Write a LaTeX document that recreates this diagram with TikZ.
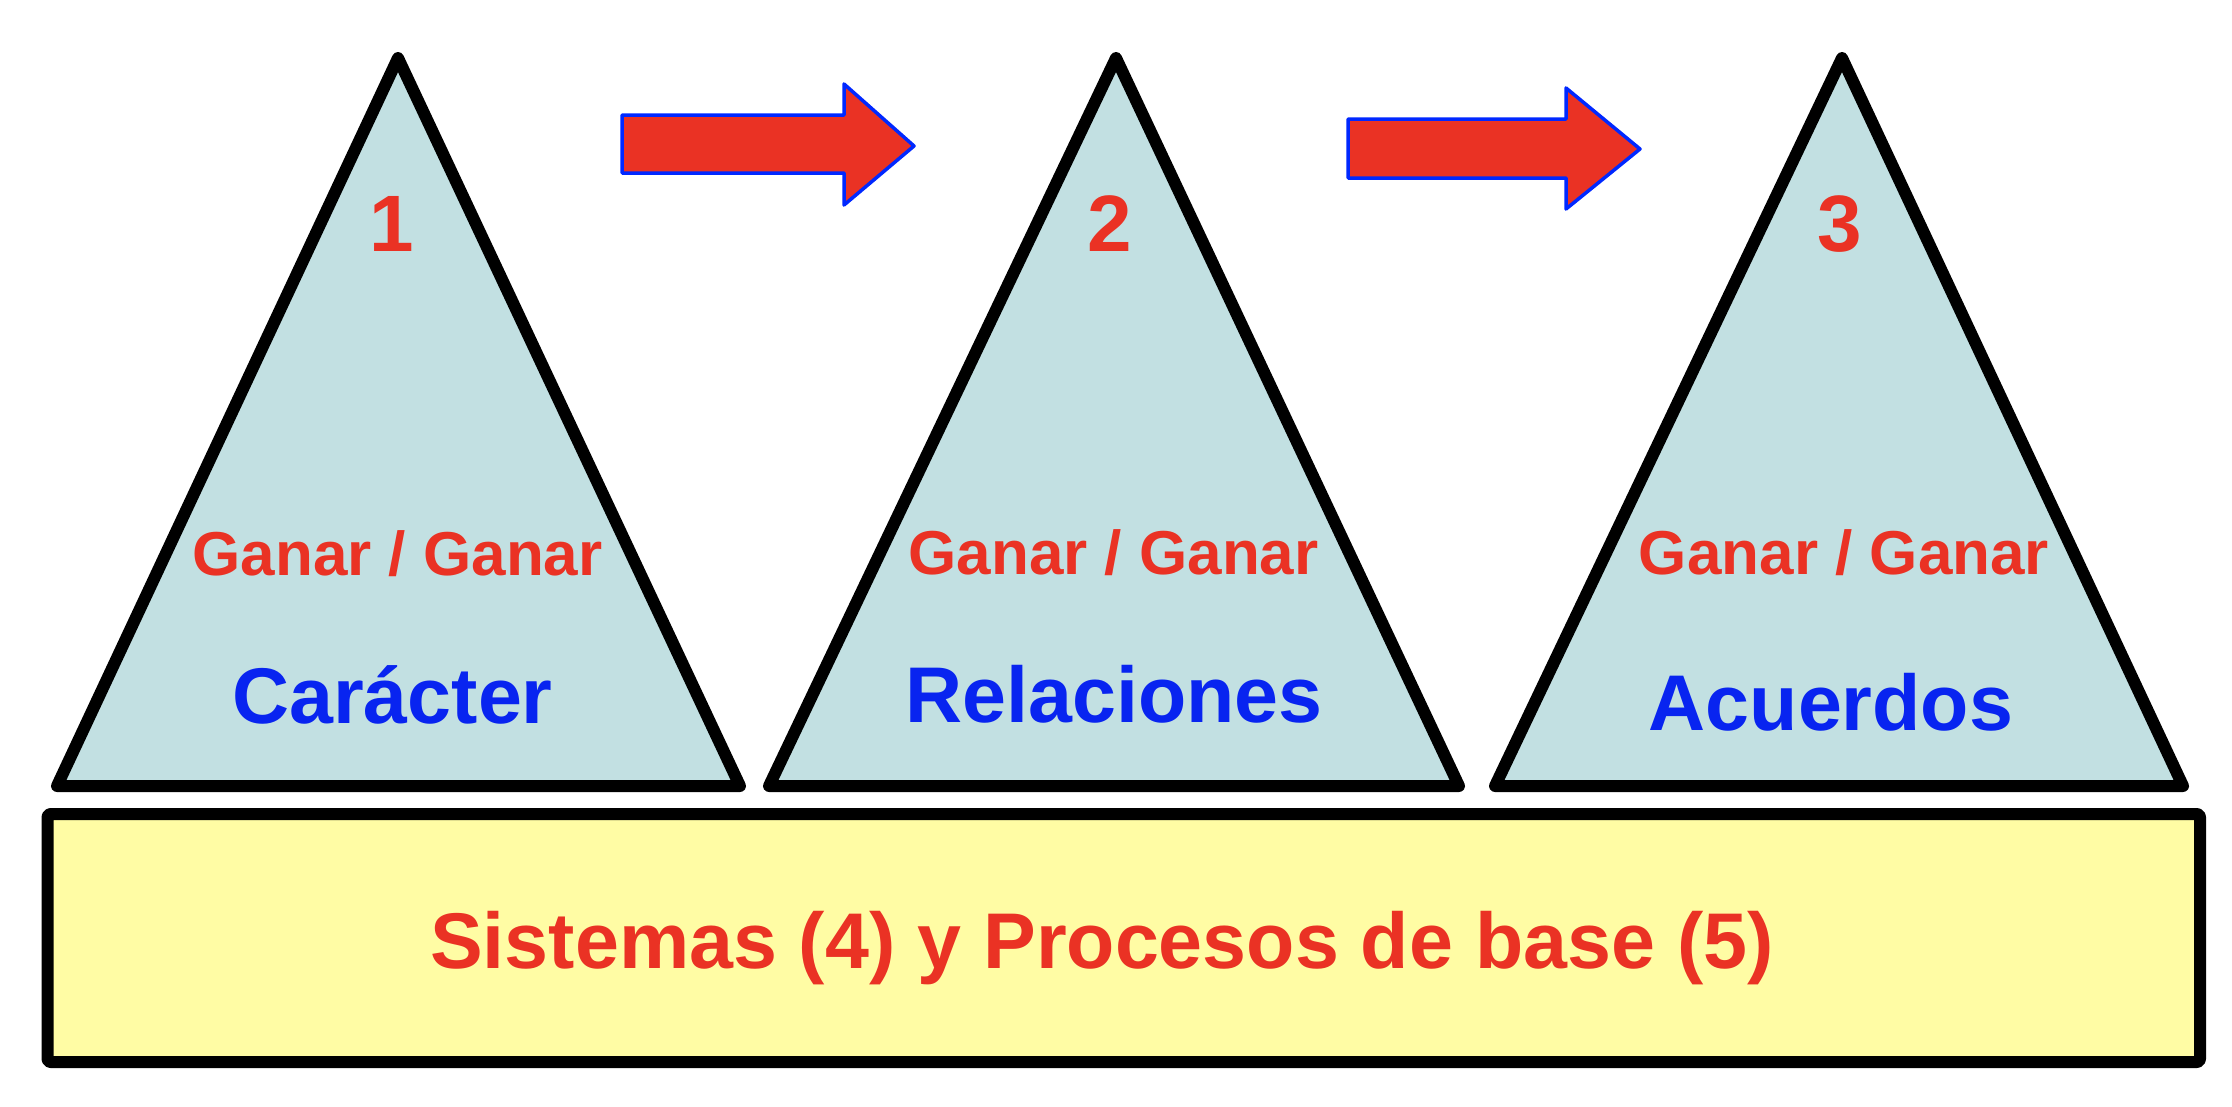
\documentclass[tikz,border=0pt]{standalone}
\usepackage{fontspec}
\setmainfont{Liberation Sans}
\definecolor{tri}{RGB}{194,224,226}
\definecolor{base}{RGB}{255,252,164}
\definecolor{txtred}{RGB}{234,50,36}
\definecolor{txtblue}{RGB}{8,36,240}
\definecolor{arrblue}{RGB}{0,40,255}
\begin{document}
\begin{tikzpicture}[x=1pt,y=-1pt,
  outline/.style={draw=black,line width=12pt,line join=round},
  trishape/.style={outline,fill=tri},
  basebox/.style={outline,fill=base,rounded corners=3pt},
  bigarrow/.style={fill=txtred,draw=arrblue,line width=3.5pt,line join=round},
  numtxt/.style={anchor=base,inner sep=0pt,text=txtred,font=\bfseries\fontsize{80}{90}\selectfont},
  wintxt/.style={anchor=base,inner sep=0pt,text=txtred,font=\bfseries\fontsize{62}{70}\selectfont},
  nametxt/.style={anchor=base,inner sep=0pt,text=txtblue,font=\bfseries\fontsize{79}{90}\selectfont},
  basetxt/.style={anchor=base,inner sep=0pt,text=txtred,font=\bfseries\fontsize{79}{90}\selectfont}]
\useasboundingbox (0,0) rectangle (2232,1106);
% triangles
\draw[trishape] (57,786) -- (740,786) -- (398,58) -- cycle;
\draw[trishape] (769,786) -- (1459,786) -- (1116,58) -- cycle;
\draw[trishape] (1495,786) -- (2183,786) -- (1842,58) -- cycle;
% base box
\draw[basebox] (47.5,814) rectangle (2200,1062);
% arrows
\draw[bigarrow] (622,115) -- (844,115) -- (844,84) -- (914,146) -- (844,205) -- (844,173) -- (622,173) -- cycle;
\draw[bigarrow] (1348,119) -- (1566,119) -- (1566,88) -- (1640,149) -- (1566,209) -- (1566,178) -- (1348,178) -- cycle;
% texts
\node[numtxt] (n1) at (392,251) {1};
\node[numtxt] (n2) at (1110,251) {2};
\node[numtxt] (n3) at (1840,251) {3};
\node[wintxt] (g1) at (397.5,575) {Ganar / Ganar};
\node[wintxt] (g2) at (1113.5,574) {Ganar / Ganar};
\node[wintxt] (g3) at (1844,574) {Ganar / Ganar};
\node[nametxt] (c1) at (392.5,723) {Carácter};
\node[nametxt] (c2) at (1114,722) {Relaciones};
\node[nametxt] (c3) at (1831,730) {Acuerdos};
\node[basetxt] (b) at (1102,968) {Sistemas (4) y Procesos de base (5)};
\end{tikzpicture}
\end{document}
